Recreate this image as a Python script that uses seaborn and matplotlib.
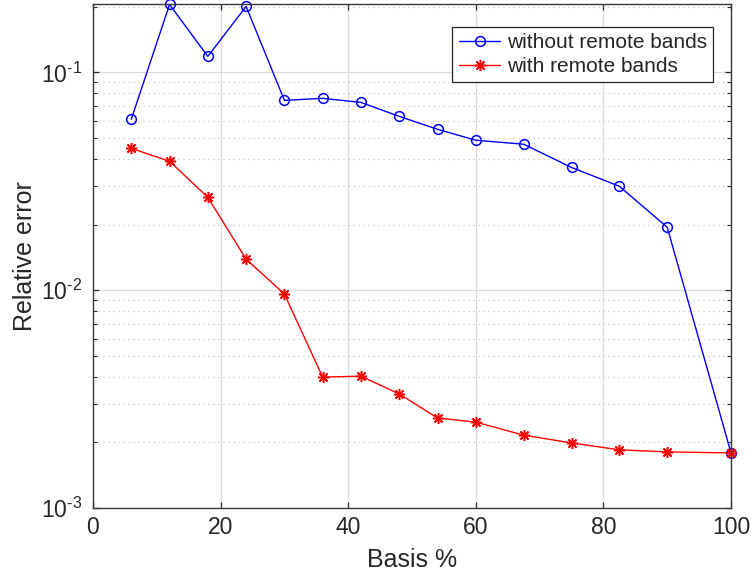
import numpy as np
import pandas as pd
import matplotlib
matplotlib.use("Agg")
import matplotlib.pyplot as plt
import seaborn as sns
from matplotlib.ticker import LogLocator, FixedLocator, FuncFormatter

# Basis size in percent and relative error for both approaches
basis_pct = [6, 12, 18, 24, 30, 36, 42, 48, 54, 60, 67.5, 75, 82.5, 90, 100]
err_without = [0.0609, 0.205, 0.1184, 0.2008, 0.0744, 0.0760, 0.0728, 0.0628,
               0.0548, 0.0488, 0.0468, 0.0366, 0.0300, 0.01945, 0.00179]
err_with = [0.0448, 0.0391, 0.0267, 0.01388, 0.0096, 0.00399, 0.00403, 0.00334,
            0.00259, 0.00248, 0.00216, 0.00199, 0.00185, 0.00181, 0.00179]
series_labels = ["without remote bands", "with remote bands"]
x_ticks = [0, 20, 40, 60, 80, 100]

sns.set_theme(style="white")
plt.rcParams["font.family"] = ["Liberation Sans", "DejaVu Sans"]
plt.rcParams["mathtext.fontset"] = "custom"
plt.rcParams["mathtext.rm"] = "Liberation Sans"
plt.rcParams["mathtext.it"] = "Liberation Sans"
plt.rcParams["mathtext.default"] = "rm"

df = pd.DataFrame({"basis": basis_pct, "without": err_without, "with": err_with})

fig = plt.figure(figsize=(7.51, 5.73), dpi=100)
ax = fig.add_axes([0.1238, 0.1134, 0.8496, 0.8796])

sns.lineplot(data=df, x="basis", y="without", ax=ax, color="#0000ff",
             marker="o", markersize=7, markerfacecolor="none",
             markeredgecolor="#0000ff", markeredgewidth=1.1, linewidth=1.0,
             label=series_labels[0], clip_on=False)
sns.lineplot(data=df, x="basis", y="with", ax=ax, color="#ff0000",
             marker=(8, 2, 0), markersize=8, markeredgecolor="#ff0000",
             markeredgewidth=1.1, linewidth=1.0,
             label=series_labels[1], clip_on=False)

ax.set_yscale("log")
ax.set_xlim(0, 100)
ax.set_ylim(1e-3, 0.206)
ax.xaxis.set_major_locator(FixedLocator(x_ticks))
ax.yaxis.set_major_locator(LogLocator(base=10))
ax.yaxis.set_minor_locator(LogLocator(base=10, subs=np.arange(2, 10)))


def pow10_label(v, pos):
    e = int(round(np.log10(v)))
    sign = "\u2010" if e < 0 else ""
    return r"10$^{%s%d}$" % (sign, abs(e))


ax.yaxis.set_major_formatter(FuncFormatter(pow10_label))

ax.grid(True, which="major", axis="both", color="#dcdcdc", linewidth=0.9)
ax.grid(True, which="minor", axis="y", color="#bdbdbd", linewidth=0.8,
        linestyle=(0, (1, 3.5)))
ax.set_axisbelow(True)

for s in ax.spines.values():
    s.set_color("#3a3a3a")
    s.set_linewidth(1.0)

ax.tick_params(which="major", direction="in", length=4.5, width=0.9,
               top=True, right=True, bottom=True, left=True,
               labelsize=16.5, colors="#262626", pad=6)
ax.tick_params(which="minor", direction="in", length=3, width=0.8,
               top=False, right=True, left=True, bottom=False)
ax.tick_params(axis="y", pad=8)

ax.set_xlabel("Basis %", fontsize=18, color="#262626", labelpad=6)
ax.set_ylabel("Relative error", fontsize=18, color="#262626")
ax.yaxis.set_label_coords(-0.088, 0.5)

leg = ax.legend(loc="upper right", bbox_to_anchor=(0.9718, 0.955),
                fontsize=15, frameon=True, fancybox=False, framealpha=1,
                edgecolor="#262626", handlelength=2.0, handletextpad=0.3,
                borderpad=0.3, labelspacing=0.25, borderaxespad=0)
leg.get_frame().set_linewidth(0.9)

fig.savefig("out.png", dpi=100)
